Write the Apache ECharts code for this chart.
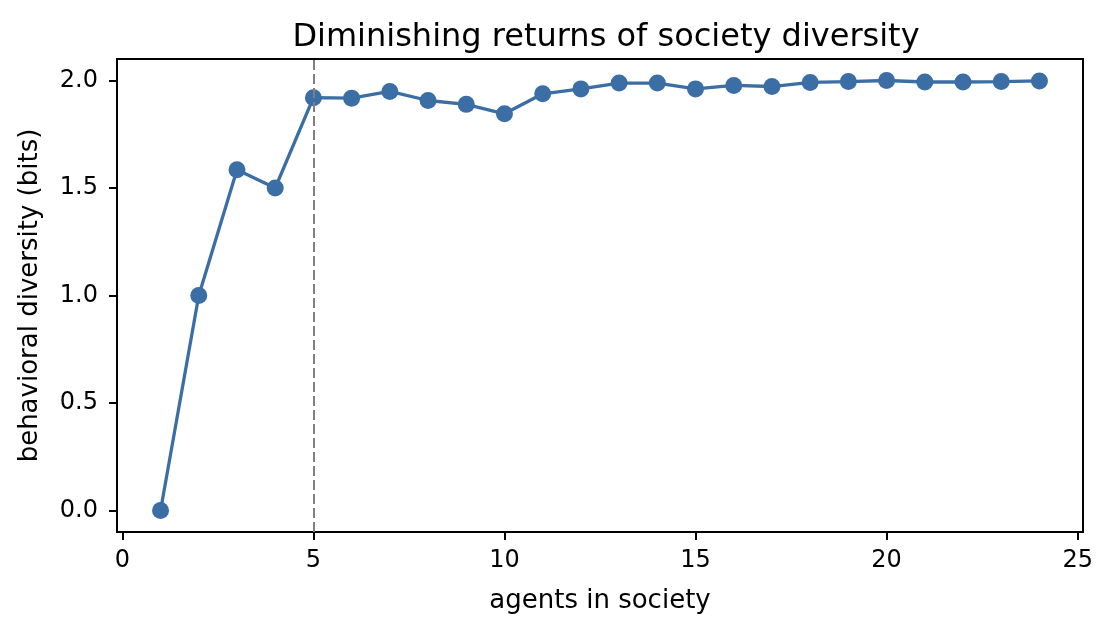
<!DOCTYPE html>
<html><head><meta charset="utf-8">
<script src="https://cdn.jsdelivr.net/npm/echarts@6/dist/echarts.min.js"></script>
<style>html,body{margin:0;padding:0;background:#fff}#c{width:1114px;height:633px}</style>
</head><body><div id="c"></div>
<script>
const agents = [1,2,3,4,5,6,7,8,9,10,11,12,13,14,15,16,17,18,19,20,21,22,23,24];
const diversity = [0.0,1.0,1.585,1.5,1.92,1.918,1.949,1.907,1.889,1.845,1.938,1.961,1.988,1.988,1.961,1.977,1.972,1.991,1.995,2.0,1.993,1.993,1.995,1.998];
const xTicks = [0,5,10,15,20,25];
const yTicks = [0,0.5,1.0,1.5,2.0];
const cutoff = 5;
const titleText = 'Diminishing returns of society diversity';
const xName = 'agents in society';
const yName = 'behavioral diversity (bits)';

const font = 'DejaVu Sans';
const chart = echarts.init(document.getElementById('c'));
chart.setOption({
  animation: false,
  backgroundColor: '#fff',
  title: {text: titleText, left: 601, top: 17, textAlign: 'center',
    textStyle: {fontFamily: font, fontSize: 32, fontWeight: 'normal', color: '#000'}},
  grid: {left: 117, right: 31, top: 59, bottom: 101, show: true, borderColor: '#000', borderWidth: 2},
  xAxis: {type: 'value', min: -0.14, max: 25.14,
    name: xName, nameLocation: 'middle', nameGap: 56,
    nameTextStyle: {fontFamily: font, fontSize: 26, color: '#000'},
    axisLine: {show: true, onZero: false, lineStyle: {color: '#000', width: 2}},
    axisTick: {show: true, inside: false, customValues: xTicks, length: 8, lineStyle: {color: '#000', width: 2}},
    axisLabel: {customValues: xTicks, fontFamily: font, fontSize: 24, color: '#000', margin: 17},
    splitLine: {show: false}},
  yAxis: {type: 'value', min: -0.1, max: 2.1,
    name: yName, nameLocation: 'middle', nameGap: 74,
    nameTextStyle: {fontFamily: font, fontSize: 26, color: '#000'},
    axisLine: {show: true, onZero: false, lineStyle: {color: '#000', width: 2}},
    axisTick: {show: true, inside: false, customValues: yTicks, length: 8, lineStyle: {color: '#000', width: 2}},
    axisLabel: {customValues: yTicks, fontFamily: font, fontSize: 24, color: '#000', margin: 19,
      formatter: v => v.toFixed(1)},
    splitLine: {show: false}},
  series: [{
    type: 'line',
    data: agents.map((a, i) => [a, diversity[i]]),
    symbol: 'circle', symbolSize: 17,
    itemStyle: {color: '#3b6ea5'},
    lineStyle: {color: '#3b6ea5', width: 3.3},
    markLine: {silent: true, symbol: 'none', label: {show: false},
      lineStyle: {color: '#808080', type: [10, 4], width: 2},
      data: [{xAxis: cutoff}]}
  }]
});
</script></body></html>
